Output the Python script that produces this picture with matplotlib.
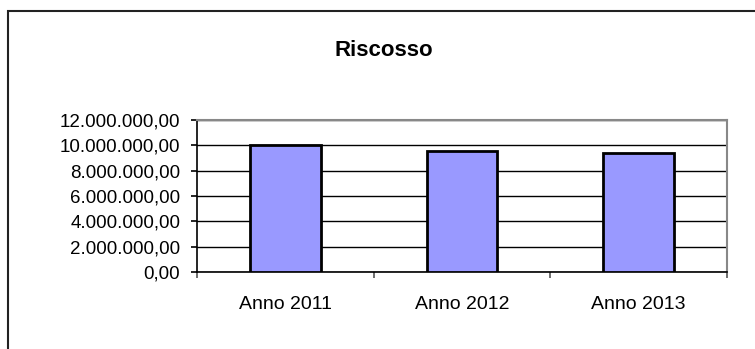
import matplotlib.pyplot as plt
from matplotlib.patches import Rectangle
from matplotlib.ticker import FuncFormatter
import numpy as np

categories = ["Anno 2011", "Anno 2012", "Anno 2013"]
values = [10040000, 9520000, 9420000]
yticks = [0, 2000000, 4000000, 6000000, 8000000, 10000000, 12000000]

plt.rcParams["font.family"] = ["Liberation Sans", "DejaVu Sans"]

W, H = 755, 349
fig = plt.figure(figsize=(W / 100, H / 100), dpi=100)

# outer chart frame (right and bottom run off the picture)
fig.patches.append(Rectangle((8 / W, -0.1), 1.2, 1.1 - 11 / H, transform=fig.transFigure,
                             fill=False, edgecolor="#222222", linewidth=1.5, clip_on=False))

ax = fig.add_axes([197 / W, (H - 272) / H, (727 - 197) / W, (272 - 120) / H])

x = np.arange(len(categories))
ax.bar(x, values, width=0.4, color="#9999FF", edgecolor="black", linewidth=2, zorder=3)

ax.set_xlim(-0.5, len(categories) - 0.5)
ax.set_ylim(0, 12000000)
ax.set_yticks(yticks)


def it_fmt(v, pos):
    s = f"{v:,.2f}"
    return s.replace(",", "X").replace(".", ",").replace("X", ".")


ax.yaxis.set_major_formatter(FuncFormatter(it_fmt))
ax.grid(axis="y", color="black", linewidth=1, zorder=0)
ax.set_axisbelow(True)

ax.set_xticks(x)
ax.set_xticklabels(categories)
ax.set_xticks(np.arange(len(categories) + 1) - 0.5, minor=True)
ax.tick_params(axis="x", which="major", length=0, pad=17, labelsize=14)
ax.tick_params(axis="x", which="minor", length=4.5, width=1.2, color="#555555")
ax.tick_params(axis="y", length=4.5, width=1.2, labelsize=13.5, pad=7.5)

for side in ["top", "right"]:
    ax.spines[side].set_color("#888888")
    ax.spines[side].set_linewidth(1.5)
ax.spines["left"].set_color("black")
ax.spines["bottom"].set_color("black")
ax.spines["left"].set_linewidth(1.2)
ax.spines["bottom"].set_linewidth(1.2)

fig.text(384 / W, 1 - 50 / H, "Riscosso", ha="center", va="center",
         fontsize=16, fontweight="bold")

fig.savefig("out.png", dpi=100)
